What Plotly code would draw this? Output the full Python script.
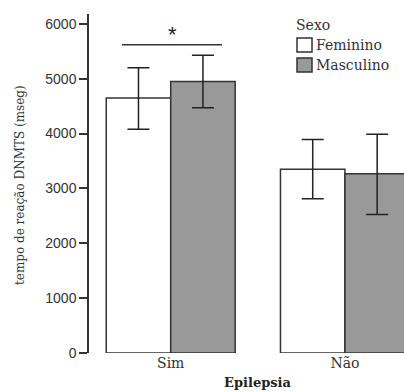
import plotly.graph_objects as go

categories = ["Sim", "Não"]
series_names = ["Feminino", "Masculino"]
feminino_mean = [4650, 3350]
feminino_upper = [5200, 3890]
feminino_lower = [4080, 2810]
masculino_mean = [4950, 3270]
masculino_upper = [5430, 3990]
masculino_lower = [4470, 2525]
y_ticks = [0, 1000, 2000, 3000, 4000, 5000, 6000]

colors = ["#ffffff", "#999999"]
serif = "DejaVu Serif"
sans = "Liberation Sans"

W, H = 404, 392
ML, MR, MT, MB = 89, 0, 14, 39
PW, PH = W - ML - MR, H - MT - MB


def px(x):
    return (x - ML) / PW


def py(y):
    return (H - MB - y) / PH


fig = go.Figure()
for name, mean, up, lo, col in [
    (series_names[0], feminino_mean, feminino_upper, feminino_lower, colors[0]),
    (series_names[1], masculino_mean, masculino_upper, masculino_lower, colors[1]),
]:
    fig.add_trace(go.Bar(
        x=categories, y=mean, name=name, showlegend=False,
        marker=dict(color=col, line=dict(color="#333333", width=1.5)),
        error_y=dict(type="data", symmetric=False,
                     array=[u - m for u, m in zip(up, mean)],
                     arrayminus=[m - l for m, l in zip(mean, lo)],
                     color="#222222", thickness=1.5, width=11),
    ))

# significance bracket
fig.add_shape(type="line", xref="x", yref="y", x0=-0.28, x1=0.294, y0=5620, y1=5620,
              line=dict(color="#333333", width=1.5))
fig.add_annotation(x=0.01, y=5800, xref="x", yref="y", text="*", showarrow=False,
                   font=dict(family=sans, size=22, color="#222222"), yanchor="middle")

# x title
fig.add_annotation(x=px(257), y=py(382), xref="paper", yref="paper", text="<b>Epilepsia</b>",
                   showarrow=False, font=dict(family=serif, size=13, color="#222222"),
                   xanchor="center", yanchor="middle")
# y title
fig.add_annotation(x=px(20), y=py(185), xref="paper", yref="paper",
                   text="tempo de reação DNMTS (mseg)", textangle=-90, showarrow=False,
                   font=dict(family=serif, size=12, color="#333333"),
                   xanchor="center", yanchor="middle")

# legend (manual)
fig.add_annotation(x=px(294), y=py(25), xref="paper", yref="paper", text="Sexo",
                   showarrow=False, font=dict(family=serif, size=14, color="#333333"),
                   xanchor="left", yanchor="middle")
for i, (name, col) in enumerate(zip(series_names, colors)):
    cy = 45 + 20 * i
    fig.add_shape(type="rect", xref="paper", yref="paper",
                  x0=px(297), x1=px(312), y0=py(cy - 7), y1=py(cy + 7),
                  fillcolor=col, line=dict(color="#333333", width=1.5))
    fig.add_annotation(x=px(314), y=py(cy), xref="paper", yref="paper", text=name,
                       showarrow=False, font=dict(family=serif, size=14, color="#333333"),
                       xanchor="left", yanchor="middle")

fig.update_layout(
    width=W, height=H,
    margin=dict(l=ML, r=MR, t=MT, b=MB, autoexpand=False),
    paper_bgcolor="white", plot_bgcolor="white",
    barmode="group", bargap=0.26, bargroupgap=0,
    showlegend=False,
    xaxis=dict(range=[-0.469, 1.339], showline=False, ticks="", showgrid=False,
               automargin=False,
               tickfont=dict(family=serif, size=14, color="#333333")),
    yaxis=dict(range=[0, 6180], tickvals=y_ticks, showline=True, linecolor="#333333",
               linewidth=1.5, ticks="outside", ticklen=8, tickwidth=1.5, tickcolor="#333333",
               showgrid=False, zeroline=False, automargin=False,
               tickfont=dict(family=sans, size=14, color="#333333")),
)
fig.write_html(
    "out.html",
    config={"displayModeBar": False},
    post_script="document.body.style.margin='0px';document.body.style.overflow='hidden';",
)
